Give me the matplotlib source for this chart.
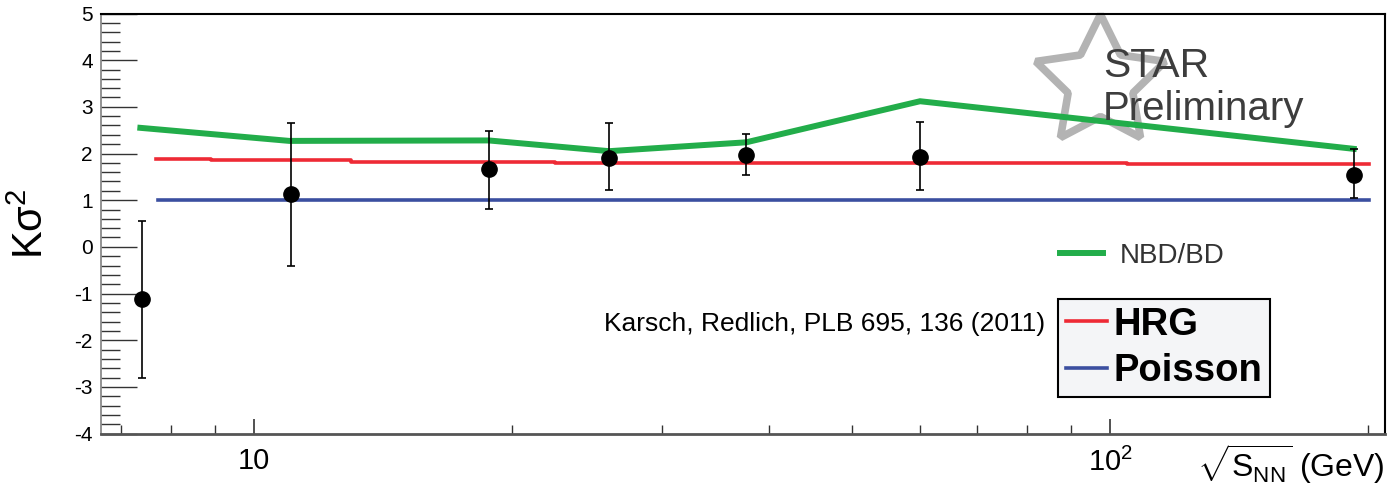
import matplotlib
matplotlib.use('Agg')
import matplotlib.pyplot as plt
from matplotlib.ticker import FixedLocator, FixedFormatter, MultipleLocator, LogLocator, NullFormatter

plt.rcParams['font.family'] = ['Liberation Sans', 'DejaVu Sans']
plt.rcParams['mathtext.fontset'] = 'custom'
plt.rcParams['mathtext.rm'] = 'Liberation Sans'
plt.rcParams['mathtext.it'] = 'Liberation Sans:italic'
plt.rcParams['mathtext.bf'] = 'Liberation Sans:bold'
plt.rcParams['mathtext.sf'] = 'Liberation Sans'
plt.rcParams['mathtext.default'] = 'regular'
plt.rcParams['axes.unicode_minus'] = False

# ---- data ----
energy = [7.4, 11.05, 18.8, 26.0, 37.6, 60.0, 192.6]
kurt = [-1.12, 1.13, 1.66, 1.91, 1.96, 1.93, 1.54]
err_top = [0.55, 2.66, 2.49, 2.66, 2.41, 2.68, 2.09]
err_bottom = [-2.81, -0.40, 0.80, 1.21, 1.53, 1.21, 1.04]

nbd_x = [7.37, 11.0, 18.8, 26.0, 37.6, 60.0, 192.6]
nbd_val = [2.55, 2.27, 2.28, 2.05, 2.24, 3.12, 2.10]

hrg_x = [7.68, 8.92, 13.0, 22.5, 104.8, 200.9]
hrg_val = [1.89, 1.86, 1.82, 1.79, 1.77, 1.77]

poisson_x = [7.72, 200.9]
poisson_val = [1.0, 1.0]

xtick_vals = [10, 100]
xtick_labels = ['10', '$10^{2}$']

W, H = 1389, 490
fig = plt.figure(figsize=(W / 100, H / 100), dpi=100)
ax = fig.add_axes([101 / W, 1 - 433.5 / H, (1385 - 101) / W, (433.5 - 13.5) / H])

green = '#22ad4a'
red = '#ee2a35'
blue = '#3b4fa0'

# star logo behind
ax.plot([0.778], [0.838], marker=(5, 1, 0), ms=98, mfc='none', mec='#b3b3b3', mew=5.5,
        transform=ax.transAxes, clip_on=False, zorder=1, linestyle='none')

l_nbd, = ax.plot(nbd_x, nbd_val, color=green, lw=4.3, zorder=4, solid_joinstyle='miter')
l_hrg, = ax.plot(hrg_x, hrg_val, color=red, lw=2.6, drawstyle='steps-post', zorder=3)
l_poi, = ax.plot(poisson_x, poisson_val, color=blue, lw=2.6, zorder=3)

lower = [k - b for k, b in zip(kurt, err_bottom)]
upper = [t - k for k, t in zip(kurt, err_top)]
ax.errorbar(energy, kurt, yerr=[lower, upper], fmt='o', color='black', ms=11,
            elinewidth=1.2, capsize=3, capthick=1.2, zorder=5)

ax.set_xscale('log')
ax.set_xlim(6.63, 209.5)
ax.set_ylim(-4, 5)

ax.xaxis.set_major_locator(FixedLocator(xtick_vals))
ax.xaxis.set_major_formatter(FixedFormatter(xtick_labels))
ax.xaxis.set_minor_locator(LogLocator(base=10, subs=[2, 3, 4, 5, 6, 7, 8, 9], numticks=20))
ax.xaxis.set_minor_formatter(NullFormatter())
ax.yaxis.set_major_locator(MultipleLocator(1))
ax.yaxis.set_minor_locator(MultipleLocator(0.2))

ax.tick_params(axis='y', which='major', direction='in', length=26, width=1, pad=6,
               labelsize=15, left=True, right=False, color='#333333')
ax.tick_params(axis='y', which='minor', direction='in', length=14, width=1,
               left=True, right=False, color='#333333')
ax.tick_params(axis='x', which='major', direction='in', length=11, width=1.2, pad=10,
               labelsize=21, bottom=True, top=False, color='#333333')
ax.tick_params(axis='x', which='minor', direction='in', length=6.5, width=1,
               bottom=True, top=False, color='#333333')

ax.spines['left'].set_color('#808080')
ax.spines['left'].set_linewidth(1.2)
ax.spines['bottom'].set_color('#555555')
ax.spines['bottom'].set_linewidth(2)
ax.spines['top'].set_color('black')
ax.spines['top'].set_linewidth(1.5)
ax.spines['right'].set_color('black')
ax.spines['right'].set_linewidth(1.5)

ax.set_ylabel('Kσ$^{2}$', fontsize=30, va='center')
ax.yaxis.set_label_coords(-0.054, 0.5)
ax.set_xlabel(r'$\sqrt{S_{NN}}$ (GeV)', fontsize=23, ha='right', va='top')
ax.xaxis.set_label_coords(1.0, -0.02)

# STAR Preliminary
fig.text(1103 / W, 1 - 77 / H, 'STAR', fontsize=29.5, color='#3d3d3d', va='baseline', ha='left', zorder=6)
fig.text(1103 / W, 1 - 120 / H, 'Preliminary', fontsize=29, color='#3d3d3d', va='baseline', ha='left', zorder=6)

# legends
leg1 = ax.legend([l_nbd], ['NBD/BD'], loc='center left', bbox_to_anchor=(1060 / W, 1 - 256 / H),
                 bbox_transform=fig.transFigure, frameon=False, borderpad=0, borderaxespad=0,
                 handlelength=1.55, handletextpad=0.61, prop={'size': 20})
for t in leg1.get_texts():
    t.set_color('#333333')
ax.add_artist(leg1)

leg2 = ax.legend([l_hrg, l_poi], ['HRG', 'Poisson'], loc='upper left',
                 bbox_to_anchor=(1058 / W, 1 - 299 / H), bbox_transform=fig.transFigure,
                 frameon=True, fancybox=False, framealpha=1, borderpad=0.2, borderaxespad=0,
                 handlelength=1.07, handletextpad=0.19, labelspacing=0.27,
                 prop={'size': 27.5, 'weight': 'bold'})
leg2.get_frame().set_facecolor('#f4f5f7')
leg2.get_frame().set_edgecolor('black')
leg2.get_frame().set_linewidth(1.5)

fig.text(1045 / W, 1 - 324 / H, 'Karsch, Redlich, PLB 695, 136 (2011)', fontsize=19,
         ha='right', va='center', color='black')

fig.savefig('out.png', dpi=100)
